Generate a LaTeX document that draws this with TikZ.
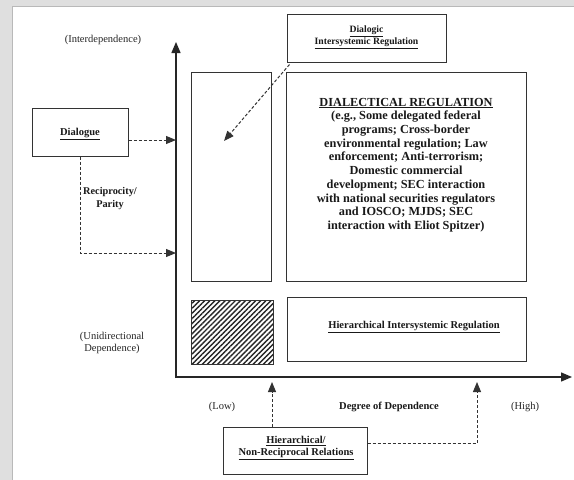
\documentclass[tikz,border=0pt]{standalone}
\usepackage{fontspec}
\setmainfont{Liberation Serif}
\usetikzlibrary{arrows.meta,patterns.meta}
\tikzset{
  box/.style={draw=black!80, line width=1pt},
  axis/.style={draw=black!85, line width=1.4pt, -{Triangle[length=11pt,width=9pt]}},
  dasharrow/.style={draw=black!80, line width=1pt, dash pattern=on 3pt off 2pt, -{Triangle[length=10pt,width=8pt]}},
  dashline/.style={draw=black!80, line width=1pt, dash pattern=on 3pt off 2pt},
  lbl/.style={font=\fontsize{10.5}{12}\selectfont, align=center, text=black!85},
  blbl/.style={font=\fontsize{10.5}{11.5}\selectfont\bfseries, align=center, text=black!90},
}
\begin{document}
\begin{tikzpicture}[x=1pt,y=-1pt]
\useasboundingbox (0,0) rectangle (574,480);
\fill[white] (0,0) rectangle (574,480);
% scanned page edge
\fill[gray!25] (0,0) rectangle (574,7);
\fill[gray!25] (0,0) rectangle (13,480);
\draw[gray!55, line width=1pt] (12.5,480) -- (12.5,6.5) -- (574,6.5);

% axes
\coordinate (O) at (176,377);
\coordinate (Ytip) at (176,42);
\coordinate (Xtip) at (572,377);
\draw[axis] (176,378) -- (Ytip);
\draw[axis] (175,377) -- (Xtip);

% boxes
\node[box, minimum width=80pt, minimum height=209pt, inner sep=0pt] (tall) at (231,176.5) {};
\node[box, minimum width=240pt, minimum height=209pt, inner sep=0pt] (dial) at (406,176.5) {};
\node[font=\fontsize{12.3}{13.7}\selectfont\bfseries, align=center, text=black!90] (dialtext) at (406,165)
  {\underline{DIALECTICAL REGULATION}\\(e.g., Some delegated federal\\programs; Cross-border\\environmental regulation; Law\\enforcement; Anti-terrorism;\\Domestic commercial\\development; SEC interaction\\with national securities regulators\\and IOSCO; MJDS; SEC\\interaction with Eliot Spitzer)};

\node[box, minimum width=159pt, minimum height=48pt, inner sep=0pt] (dialogic) at (366.5,38) {};
\node[font=\fontsize{9.7}{10.8}\selectfont\bfseries, align=center, text=black!90] (dialogictext) at (366.5,37)
  {\underline{Dialogic}\\\underline{Intersystemic Regulation}};

\node[box, minimum width=82pt, minimum height=64pt, inner sep=0pt,
      pattern={Lines[angle=45,distance=3.6pt,line width=1.4pt]}, pattern color=black!85] (hatch) at (232,332) {};

\node[box, minimum width=239pt, minimum height=64pt, inner sep=0pt] (hier) at (406.5,329) {};
\node[blbl] (hiertext) at (414,327) {\underline{Hierarchical Intersystemic Regulation}};

\node[box, minimum width=96pt, minimum height=48pt, inner sep=0pt] (dialogue) at (80,132) {};
\node[blbl] (dialoguetext) at (80,134) {\underline{Dialogue}};

\node[box, minimum width=144pt, minimum height=47pt, inner sep=0pt] (nonrec) at (295,451) {};
\node[blbl] (nonrectext) at (296,448) {\underline{Hierarchical/}\\\underline{Non-Reciprocal Relations}};

% labels
\node[lbl] (interdep) at (103,40) {(Interdependence)};
\node[lbl] (unidir) at (112,343) {(Unidirectional\\Dependence)};
\node[lbl] (low) at (222,407) {(Low)};
\node[blbl] (degree) at (389,407) {Degree of Dependence};
\node[lbl] (high) at (525,407) {(High)};
\node[font=\fontsize{10.3}{13}\selectfont\bfseries, align=center, text=black!90] (recip) at (110,199) {Reciprocity/\\Parity};

% dashed connectors
\coordinate (dl1) at (176,140);
\draw[dasharrow] (dialogue.east |- dl1) -- (dl1);
\coordinate (dl2) at (80,253);
\coordinate (dl3) at (176,253);
\draw[dasharrow] (dialogue.south) -- (dl2) -- (dl3);
\coordinate (dg) at (224,141);
\draw[dasharrow] (dialogic.south west) ++(3,2) -- (dg);
\coordinate (lowtip) at (272,382);
\draw[dasharrow] (nonrec.north -| lowtip) -- (lowtip);
\coordinate (hr1) at (477,443);
\coordinate (hightip) at (477,382);
\draw[dasharrow] (nonrec.east |- hr1) -- (hr1) -- (hightip);
\end{tikzpicture}
\end{document}
